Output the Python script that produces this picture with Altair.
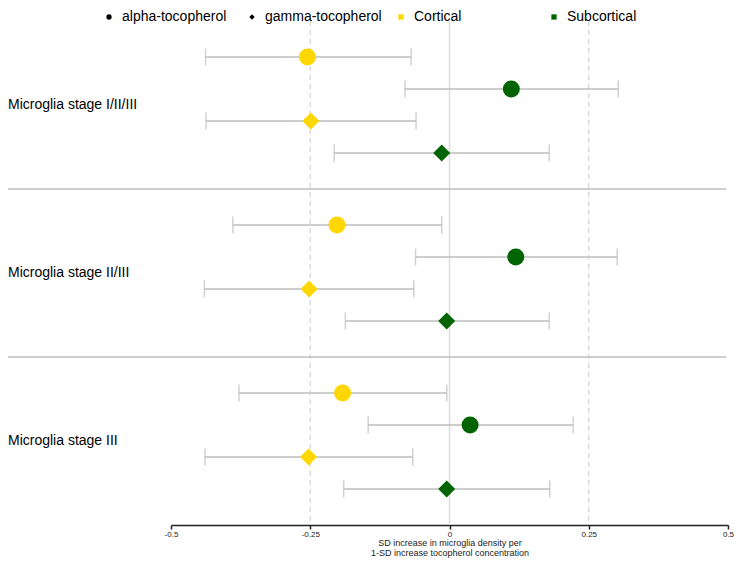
import altair as alt
import pandas as pd

# ---- data ----
groups = ["Microglia stage I/II/III", "Microglia stage II/III", "Microglia stage III"]
regions = ["Cortical", "Subcortical", "Cortical", "Subcortical"]
tocopherols = ["alpha-tocopherol", "alpha-tocopherol", "gamma-tocopherol", "gamma-tocopherol"]

est_g1 = [-0.255, 0.111, -0.249, -0.014]
lo_g1 = [-0.438, -0.080, -0.437, -0.207]
hi_g1 = [-0.069, 0.303, -0.060, 0.179]

est_g2 = [-0.202, 0.119, -0.252, -0.005]
lo_g2 = [-0.389, -0.061, -0.440, -0.187]
hi_g2 = [-0.014, 0.301, -0.064, 0.179]

est_g3 = [-0.192, 0.037, -0.253, -0.005]
lo_g3 = [-0.378, -0.146, -0.439, -0.190]
hi_g3 = [-0.005, 0.222, -0.066, 0.180]

tick_values = [-0.5, -0.25, 0, 0.25, 0.5]
tick_labels = ["-0.5", "-0.25", "0", "0.25", "0.5"]
ref_dashed = [-0.25, 0.25]
ref_solid = [0]

region_domain = ["Cortical", "Subcortical"]
region_colors = ["#FFD700", "#006400"]
shape_domain = ["alpha-tocopherol", "gamma-tocopherol"]
shape_range = ["circle", "diamond"]

# ---- table ----
n_rows = len(regions)
step = n_rows + 1.25
rows = []
for g, (est, lo, hi) in enumerate([(est_g1, lo_g1, hi_g1), (est_g2, lo_g2, hi_g2), (est_g3, lo_g3, hi_g3)]):
    for r in range(n_rows):
        rows.append(dict(group=groups[g], region=regions[r], toco=tocopherols[r],
                         est=est[r], lo=lo[r], hi=hi[r], pos=g * step + r))
df = pd.DataFrame(rows)

lab_df = pd.DataFrame({"group": groups,
                       "pos": [g * step + (n_rows - 1) / 2 for g in range(len(groups))]})
sep_df = pd.DataFrame({"pos": [g * step - (step - (n_rows - 1)) / 2 for g in range(1, len(groups))]})
dash_df = pd.DataFrame({"x": ref_dashed})
solid_df = pd.DataFrame({"x": ref_solid})

pad = (step - (n_rows - 1)) / 2
ydom = [-pad, (len(groups) - 1) * step + (n_rows - 1) + pad]

label_map = " : ".join([f"datum.value == {v} ? '{l}'" for v, l in zip(tick_values, tick_labels)]) + " : ''"

xscale = alt.Scale(domain=[-0.5, 0.5], nice=False, zero=False)
yscale = alt.Scale(domain=ydom, nice=False, zero=False, reverse=True)

Y = alt.Y("pos:Q", scale=yscale, axis=None)

dashed = alt.Chart(dash_df).mark_rule(color="#DCDCDC", strokeWidth=1.5, strokeDash=[5, 4]).encode(
    x=alt.X("x:Q", scale=xscale, axis=alt.Axis(
        values=tick_values, labelExpr=label_map, title=["SD increase in microglia density per",
                                                         "1-SD increase tocopherol concentration"],
        grid=False, domainColor="#222222", domainWidth=1.5, tickColor="#222222", tickWidth=1.5,
        tickSize=4, labelFontSize=8, labelColor="#222222", labelPadding=1,
        titleFontSize=9, titleFontWeight="normal", titleColor="#222222", titleLineHeight=10,
        titlePadding=0, labelFlush=False)))
solid = alt.Chart(solid_df).mark_rule(color="#DCDCDC", strokeWidth=1.5).encode(x=alt.X("x:Q", scale=xscale))

seps = alt.Chart(sep_df).mark_rule(color="#BEBEBE", strokeWidth=1.5).encode(
    y=Y, x=alt.value(-163), x2=alt.value(555))

bars = alt.Chart(df).mark_rule(color="#BEBEBE", strokeWidth=1.5).encode(
    x=alt.X("lo:Q", scale=xscale), x2="hi:Q", y=Y)
cap_lo = alt.Chart(df).mark_tick(color="#BEBEBE", thickness=1.5, size=17, orient="vertical").encode(
    x=alt.X("lo:Q", scale=xscale), y=Y)
cap_hi = alt.Chart(df).mark_tick(color="#BEBEBE", thickness=1.5, size=17, orient="vertical").encode(
    x=alt.X("hi:Q", scale=xscale), y=Y)

points = alt.Chart(df).mark_point(filled=True, opacity=1, size=289, strokeWidth=0).encode(
    x=alt.X("est:Q", scale=xscale), y=Y,
    color=alt.Color("region:N", scale=alt.Scale(domain=region_domain, range=region_colors),
                    legend=alt.Legend(title=None, orient="none", legendX=223, legendY=-11,
                                      direction="horizontal", symbolType="square", symbolSize=28,
                                      columnPadding=85, labelFontSize=14, labelOffset=6,
                                      symbolStrokeWidth=0)),
    shape=alt.Shape("toco:N", scale=alt.Scale(domain=shape_domain, range=shape_range),
                    legend=alt.Legend(title=None, orient="none", legendX=-69, legendY=-11,
                                      direction="horizontal", symbolSize=28, symbolFillColor="black",
                                      symbolStrokeColor="black", symbolStrokeWidth=0,
                                      columnPadding=18, labelFontSize=14, labelOffset=6)),
)

labels = alt.Chart(lab_df).mark_text(align="left", baseline="middle", fontSize=14, color="#000000").encode(
    x=alt.value(-163), y=Y, text="group:N")

chart = alt.layer(dashed, solid, seps, bars, cap_lo, cap_hi, points, labels).properties(
    width=557, height=504,
    autosize=alt.AutoSizeParams(type="none"),
    padding={"left": 163, "top": 13, "right": 6, "bottom": 35},
).configure(font="Liberation Sans").configure_view(stroke=None).configure_legend(
    labelFont="Liberation Sans", labelColor="#000000", padding=0)

chart.save("out.html", embed_options={"renderer": "svg", "actions": False})
